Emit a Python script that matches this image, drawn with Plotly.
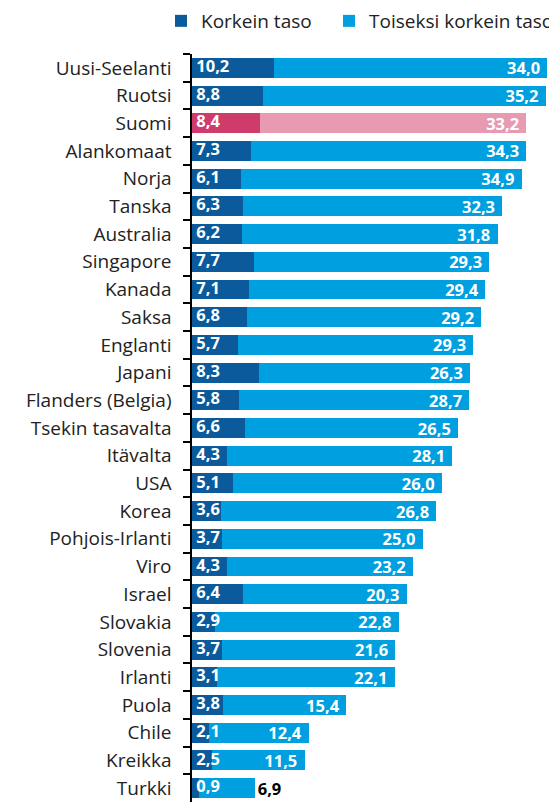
import plotly.graph_objects as go

countries = ["Uusi-Seelanti", "Ruotsi", "Suomi", "Alankomaat", "Norja", "Tanska", "Australia",
             "Singapore", "Kanada", "Saksa", "Englanti", "Japani", "Flanders (Belgia)",
             "Tsekin tasavalta", "Itävalta", "USA", "Korea", "Pohjois-Irlanti", "Viro", "Israel",
             "Slovakia", "Slovenia", "Irlanti", "Puola", "Chile", "Kreikka", "Turkki"]
korkein = [10.2, 8.8, 8.4, 7.3, 6.1, 6.3, 6.2, 7.7, 7.1, 6.8, 5.7, 8.3, 5.8, 6.6, 4.3, 5.1,
           3.6, 3.7, 4.3, 6.4, 2.9, 3.7, 3.1, 3.8, 2.1, 2.5, 0.9]
toiseksi = [34.0, 35.2, 33.2, 34.3, 34.9, 32.3, 31.8, 29.3, 29.4, 29.2, 29.3, 26.3, 28.7, 26.5,
            28.1, 26.0, 26.8, 25.0, 23.2, 20.3, 22.8, 21.6, 22.1, 15.4, 12.4, 11.5, 6.9]
series_names = ["Korkein taso", "Toiseksi korkein taso"]

DARK = "#0B5A9C"
LIGHT = "#009FE0"
PINK_DARK = "#CF3C6C"
PINK_LIGHT = "#E89AB2"
FONT = "Open Sans"

def fmt(v):
    return f"{v:.1f}".replace(".", ",")

dark_colors = [PINK_DARK if c == "Suomi" else DARK for c in countries]
light_colors = [PINK_LIGHT if c == "Suomi" else LIGHT for c in countries]
light_pos = ["outside" if c == "Turkki" else "inside" for c in countries]

fig = go.Figure()
fig.add_trace(go.Bar(
    y=countries, x=korkein, orientation="h", name=series_names[0],
    marker=dict(color=dark_colors, line=dict(width=0)),
    hoverinfo="skip", legend="legend",
))
fig.add_trace(go.Bar(
    y=countries, x=toiseksi, orientation="h", name=series_names[1],
    marker=dict(color=light_colors, line=dict(width=0)),
    text=[fmt(v) + "\u00a0" for v in toiseksi], textposition=light_pos,
    insidetextanchor="end", textangle=0, constraintext="none",
    insidetextfont=dict(family=FONT, size=16.5, color="white", weight="bold"),
    outsidetextfont=dict(family=FONT, size=16.5, color="black", weight="bold"),
    hoverinfo="skip", cliponaxis=False, legend="legend2",
))
# labels of the first segment, drawn above both bars
fig.add_trace(go.Scatter(
    y=countries, x=[0] * len(countries), mode="text",
    text=["\u00a0" + fmt(v) for v in korkein], textposition="middle right",
    textfont=dict(family=FONT, size=16.5, color="white", weight="bold"),
    showlegend=False, hoverinfo="skip", cliponaxis=False,
))

W, H = 549, 795
LEG_Y = 1 - 13 / H
leg_common = dict(orientation="h", xref="container", yref="container", y=LEG_Y,
                  xanchor="left", yanchor="middle", itemwidth=30,
                  font=dict(family=FONT, size=19, color="#222222"))
fig.update_layout(
    width=W, height=H,
    barmode="stack", bargap=0.28,
    margin=dict(l=184, r=0, t=46, b=1, autoexpand=False),
    plot_bgcolor="white", paper_bgcolor="white",
    font=dict(family=FONT, size=19, color="#222222"),
    showlegend=True,
    legend=dict(x=153 / W, **leg_common),
    legend2=dict(x=321 / W, **leg_common),
    xaxis=dict(range=[0, 45.4], visible=False, showgrid=False, zeroline=False),
    yaxis=dict(range=[len(countries) - 0.5, -0.5], autorange=False,
               showline=True, linecolor="black", linewidth=1.5,
               ticks="outside", tickson="boundaries", ticklen=7, tickcolor="black",
               tickwidth=1.5, showgrid=False, ticksuffix=" ", automargin=False,
               ticklabelstandoff=10,
               tickfont=dict(family=FONT, size=19, color="#222222")),
)

fig.write_html("out.html")
